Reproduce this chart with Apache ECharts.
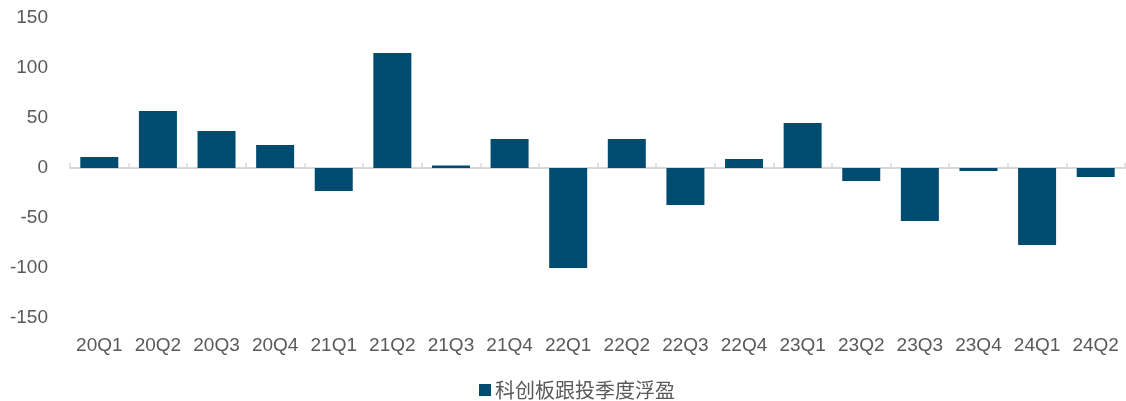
<!DOCTYPE html>
<html>
<head>
<meta charset="utf-8">
<script src="https://cdn.jsdelivr.net/npm/echarts@6/dist/echarts.min.js"></script>
<style>
  html, body { margin: 0; padding: 0; background: #fff; }
  #chart { width: 1126px; height: 401px; }
</style>
</head>
<body>
<div id="chart"></div>
<script>
// Quarterly STAR Market follow-on investment floating P&L
const quarters = ['20Q1','20Q2','20Q3','20Q4','21Q1','21Q2','21Q3','21Q4','22Q1','22Q2','22Q3','22Q4','23Q1','23Q2','23Q3','23Q4','24Q1','24Q2'];
const floatingPnl = [11, 57, 37, 23, -23, 115, 2.5, 29, -100, 29, -37, 9, 45, -13, -53, -3, -77, -9];
const seriesName = '科创板跟投季度浮盈';

const textColor = '#595959';
const barColor = '#004B70';
const axisGray = '#D9D9D9';
const font = '"Liberation Sans", Arial, sans-serif';

const chart = echarts.init(document.getElementById('chart'), null, { renderer: 'canvas' });
chart.setOption({
  animation: false,
  backgroundColor: '#ffffff',
  grid: { left: 70, right: 1, top: 18, height: 300 },
  legend: {
    data: [seriesName],
    left: 479,
    top: 376,
    padding: 0,
    itemWidth: 12,
    itemHeight: 12,
    itemGap: 4,
    icon: 'rect',
    textStyle: { color: textColor, fontSize: 20, lineHeight: 28, fontFamily: '"Noto Sans CJK SC", sans-serif', padding: [0, 0, 0, -1] }
  },
  xAxis: [
    {
      type: 'category',
      data: quarters,
      position: 'bottom',
      axisLine: { show: false, onZero: false },
      axisTick: { show: false },
      axisLabel: { color: textColor, fontSize: 19, fontFamily: font, margin: 18, interval: 0 },
      splitLine: { show: false }
    },
    {
      type: 'category',
      data: quarters,
      position: 'bottom',
      axisLine: { show: true, onZero: true, lineStyle: { color: axisGray, width: 2 } },
      axisTick: { show: true, inside: true, length: 5, interval: 0, lineStyle: { color: axisGray, width: 1.5 } },
      axisLabel: { show: false },
      splitLine: { show: false }
    }
  ],
  yAxis: {
    type: 'value',
    min: -150,
    max: 150,
    interval: 50,
    axisLine: { show: false },
    axisTick: { show: false },
    splitLine: { show: false },
    axisLabel: { color: textColor, fontSize: 19, fontFamily: font, margin: 22, padding: [3, 0, 0, 0] }
  },
  series: [
    {
      name: seriesName,
      type: 'bar',
      xAxisIndex: 0,
      data: floatingPnl,
      barWidth: 38,
      itemStyle: { color: barColor }
    }
  ]
});
</script>
</body>
</html>
